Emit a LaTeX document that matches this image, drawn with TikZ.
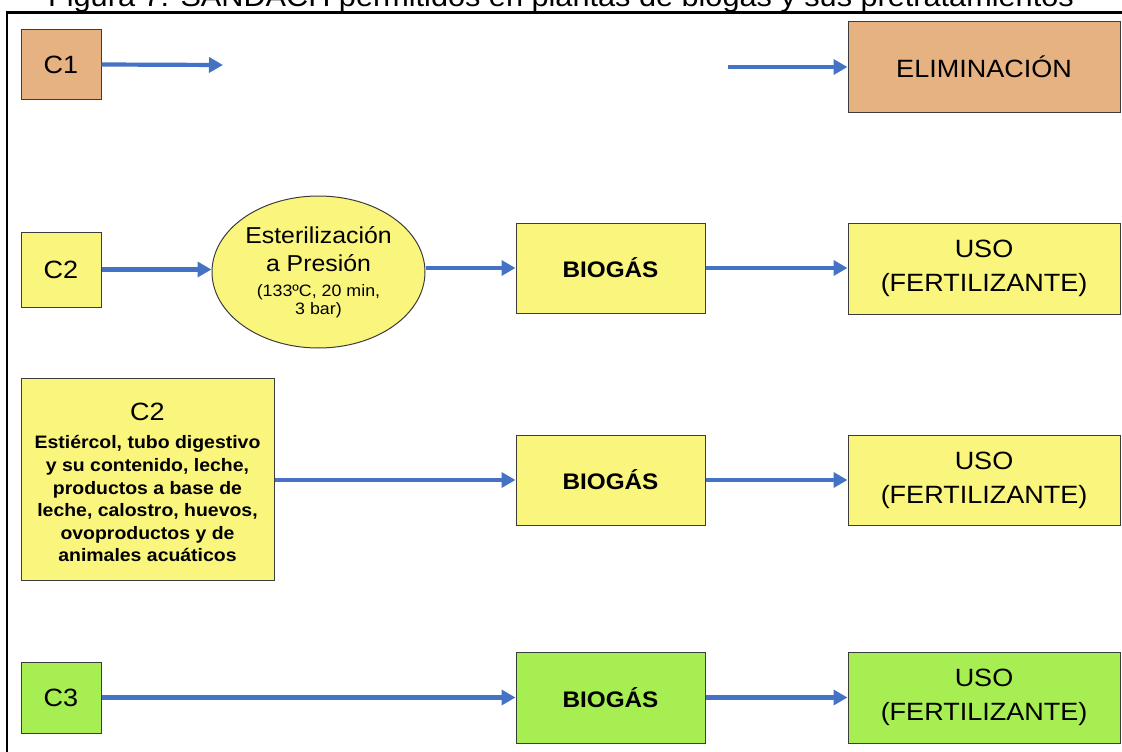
\documentclass[tikz,border=0pt]{standalone}
\usepackage{fontspec}
\setmainfont{Liberation Sans}[FakeStretch=1.08]
\usetikzlibrary{arrows.meta,shapes.geometric}

\definecolor{tanfill}{RGB}{231,178,130}
\definecolor{yellowfill}{RGB}{250,245,125}
\definecolor{greenfill}{RGB}{166,238,82}
\definecolor{flowblue}{RGB}{68,114,196}
\definecolor{boxline}{RGB}{60,60,60}

\tikzset{
  box/.style={draw=boxline, line width=1pt, inner sep=0pt, align=center,
              font=\fontsize{25}{34}\selectfont},
  tanbox/.style={box, fill=tanfill},
  yellowbox/.style={box, fill=yellowfill},
  greenbox/.style={box, fill=greenfill},
  biobox/.style={font=\fontsize{22.5}{28}\selectfont\bfseries},
  flow/.style={draw=flowblue, line width=4.2pt,
               -{Triangle[length=14pt,width=15pt]}},
}

\begin{document}
\begin{tikzpicture}[x=1pt,y=-1pt]
\useasboundingbox (0,0) rectangle (1122,752);
\fill[white] (0,0) rectangle (1122,752);
\clip (0,0) rectangle (1122,752);

% caption, partly cut off at the top edge
\node[anchor=base, inner sep=0pt, font=\fontsize{28.4}{31}\selectfont] (title) at (561,7)
  {Figura 7. SANDACH permitidos en plantas de biogás y sus pretratamientos};

% outer frame
\draw[line width=2.5pt] (7,760) -- (7,12.5) -- (1130,12.5);

% row 1: C1
\node[tanbox, minimum width=80pt, minimum height=70pt] (c1) at (61,64.5) {C1};
\node[tanbox, minimum width=272pt, minimum height=90pt] (elim) at (984,67) {ELIMINACIÓN};
\coordinate (c1end) at (223,65);
\coordinate (elimstart) at (728,67);
\draw[flow] (c1.east) -- (c1end);
\draw[flow] (elimstart) -- (elim.west);

% row 2: C2 with pressure sterilisation
\node[yellowbox, minimum width=80pt, minimum height=75pt] (c2a) at (61,269.5) {C2};
\node[ellipse, draw=boxline, line width=1pt, fill=yellowfill, inner sep=0pt,
      minimum width=213pt, minimum height=152pt, align=center,
      font=\fontsize{23}{29}\selectfont] (ster) at (318.5,272)
  {Esterilización\\[-1pt]a Presión\\[-4pt]\fontsize{16.5}{18}\selectfont(133ºC, 20 min,\\[-11pt]\fontsize{16.5}{18}\selectfont 3 bar)};
\node[yellowbox, biobox, minimum width=189pt, minimum height=90pt] (bio1) at (610.5,268) {BIOGÁS};
\node[yellowbox, minimum width=272pt, minimum height=91pt] (uso1) at (984,268.5) {USO\\(FERTILIZANTE)};
\draw[flow] (c2a.east) -- (c2a.east -| ster.west);
\draw[flow] (bio1.west -| ster.east) -- (bio1.west);
\draw[flow] (bio1.east) -- (bio1.east -| uso1.west);

% row 3: C2 materials fed directly
\node[yellowbox, minimum width=253pt, minimum height=202pt] (c2b) at (147.5,479) {};
\node[align=center, inner sep=0pt, font=\fontsize{18}{22.6}\selectfont\bfseries]
  (c2btext) at ([yshift=-3.5pt]c2b.center)
  {\fontsize{25}{29}\selectfont\mdseries C2\\[6pt]
   \fontsize{18}{22.6}\selectfont\bfseries Estiércol, tubo digestivo\\y su contenido, leche,\\productos a base de\\leche, calostro, huevos,\\ovoproductos y de\\animales acuáticos};
\node[yellowbox, biobox, minimum width=189pt, minimum height=90pt] (bio2) at (610.5,480) {BIOGÁS};
\node[yellowbox, minimum width=272pt, minimum height=90pt] (uso2) at (984,480) {USO\\(FERTILIZANTE)};
\draw[flow] (c2b.east |- bio2.west) -- (bio2.west);
\draw[flow] (bio2.east) -- (uso2.west);

% row 4: C3
\node[greenbox, minimum width=80pt, minimum height=71pt] (c3) at (61,697.5) {C3};
\node[greenbox, biobox, minimum width=189pt, minimum height=91pt] (bio3) at (610.5,697.5) {BIOGÁS};
\node[greenbox, minimum width=272pt, minimum height=91pt] (uso3) at (984,697.5) {USO\\(FERTILIZANTE)};
\draw[flow] (c3.east) -- (bio3.west);
\draw[flow] (bio3.east) -- (uso3.west);
\end{tikzpicture}
\end{document}
